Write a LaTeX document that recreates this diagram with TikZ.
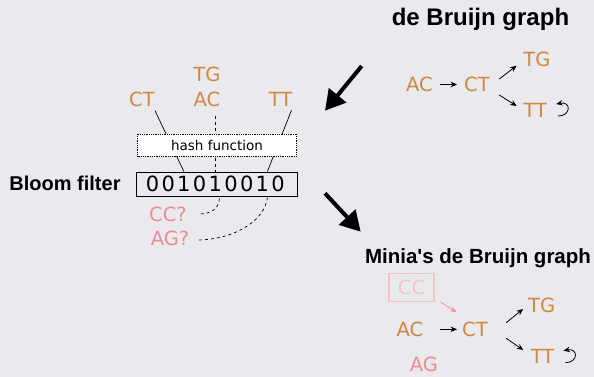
\documentclass[tikz,border=0pt]{standalone}
\usepackage{fontspec}
\setmainfont{DejaVu Sans}
\newfontfamily\headfont{Liberation Sans}
\usetikzlibrary{arrows.meta,calc}
\definecolor{slidebg}{RGB}{234,233,238}
\definecolor{kmer}{RGB}{205,137,62}
\definecolor{falsepos}{RGB}{232,142,142}
\definecolor{fpbox}{RGB}{242,196,196}
\def\selfloop(#1){\draw[arr] ($(#1.east)+(11,6)$) .. controls ($(#1.east)+(24,6)$) and ($(#1.east)+(24,-9)$) .. ($(#1.east)+(9,-6)$);}

\begin{document}
\begin{tikzpicture}[x=1pt,y=-1pt,
    kmerlabel/.style={text=kmer, font=\fontsize{19.5}{20}\selectfont, inner sep=0pt},
    fplabel/.style={text=falsepos, font=\fontsize{19.5}{20}\selectfont, inner sep=0pt},
    headlabel/.style={font=\headfont\bfseries\fontsize{20}{22}\selectfont, inner sep=0pt},
    bit/.style={font=\fontsize{21}{21}\selectfont, inner sep=0pt},
    bloombox/.style={draw, line width=1pt, minimum width=161pt, minimum height=24pt, inner sep=0pt},
    hashbox/.style={draw, densely dotted, line width=0.8pt, fill=white, minimum width=159pt,
      minimum height=22pt, font=\fontsize{13.5}{14}\selectfont},
    hashline/.style={line width=0.7pt},
    fpline/.style={line width=0.7pt, dashed},
    arr/.style={line width=0.8pt, -{Stealth[length=6.5pt,width=5.5pt]}},
    fparr/.style={arr, draw=falsepos!90!white},
    bigarrow/.style={line width=4pt, -{Triangle[length=20pt,width=22pt]}}]

\fill[slidebg] (0,0) rectangle (594,377);
\useasboundingbox (0,0) rectangle (594,377);

% k-mers hashed into the filter
\node[kmerlabel] (ct) at (142,99) {CT};
\node[kmerlabel] (ac) at (207,99) {AC};
\node[kmerlabel] (tg) at (207,74) {TG};
\node[kmerlabel] (tt) at (280.5,99) {TT};

\node[bloombox] (bloom) at (216.5,184) {};
\foreach \b [count=\i] in {0,0,1,0,1,0,0,1,0}
  \node[bit] (b\i) at (136.8+15.7*\i,184) {\b};
\node[headlabel, anchor=base] (bloomtitle) at (65,190) {Bloom filter};

\draw[hashline] ($(ct.south east)+(0,4)$) -- (b3.north |- bloom.north);
\draw[hashline, dashed] ($(ac.south -| b5)+(0,9)$) -- (b5 |- bloom.north);
\draw[hashline] ($(tt.south east)+(-1,4)$) -- ($(b8 |- bloom.north)+(5,0)$);

\node[hashbox] (hash) at (217,145) {hash function};

% false positives
\node[fplabel] (ccq) at (168,214) {CC?};
\node[fplabel] (agq) at (170,238) {AG?};
\draw[fpline] ($(b5 |- bloom.south)+(4,2)$) .. controls +(0,10) and +(12,0) .. ($(ccq.east)+(12,0)$);
\draw[fpline] ($(b8 |- bloom.south)+(5,1)$) .. controls +(-3,25) and +(35,0) .. ($(agq.east)+(7,2)$);

% big arrows
\coordinate (q1s) at (361.7,66);
\coordinate (q1e) at (325,110.7);
\coordinate (q2s) at (325,193.3);
\coordinate (q2e) at (360.7,231.7);
\draw[bigarrow] (q1s) -- (q1e);
\draw[bigarrow] (q2s) -- (q2e);

% de Bruijn graph
\node[headlabel, anchor=base, font=\headfont\bfseries\fontsize{24}{25}\selectfont] (dbgtitle) at (480.5,25.5) {de Bruijn graph};
\node[kmerlabel] (ac1) at (419.5,84.5) {AC};
\node[kmerlabel] (ct1) at (477,84.5) {CT};
\node[kmerlabel] (tg1) at (537,59) {TG};
\node[kmerlabel] (tt1) at (535.3,110) {TT};
\draw[arr, shorten <=7pt, shorten >=7pt] (ac1) -- (ct1);
\draw[arr] ($(ct1.east)+(9.3,-5.5)$) -- ($(tg1.west)+(-6.7,6.7)$);
\draw[arr] ($(ct1.east)+(9.3,10.5)$) -- ($(tt1.west)+(-6.7,-4)$);
\selfloop(tt1)

% Minia's graph
\node[headlabel, anchor=base, font=\headfont\bfseries\fontsize{20.5}{22}\selectfont] (miniatitle) at (478,263.3) {Minia\textquotesingle s de Bruijn graph};
\node[draw=fpbox, line width=1.2pt, text=fpbox, font=\fontsize{19.5}{20}\selectfont,
  minimum width=45pt, minimum height=28pt, inner sep=0pt] (cc2) at (411.5,287.5) {CC};
\node[kmerlabel] (ac2) at (410,329.3) {AC};
\node[kmerlabel] (ct2) at (475,329.3) {CT};
\node[kmerlabel] (tg2) at (541.7,305) {TG};
\node[kmerlabel] (tt2) at (542.5,356.7) {TT};
\node[fplabel] (ag2) at (424,364) {AG};
\draw[fparr] ($(cc2.south east)+(6,0)$) -- ($(ct2.north west)+(-5.5,-9.5)$);
\draw[arr, shorten <=16pt, shorten >=5pt] (ac2) -- (ct2);
\draw[arr] ($(ct2.east)+(18.2,-6.6)$) -- ($(tg2.west)+(-4.9,4)$);
\draw[arr] ($(ct2.east)+(18.2,9)$) -- ($(tt2.west)+(-7.3,-6.7)$);
\selfloop(tt2)

\end{tikzpicture}
\end{document}
